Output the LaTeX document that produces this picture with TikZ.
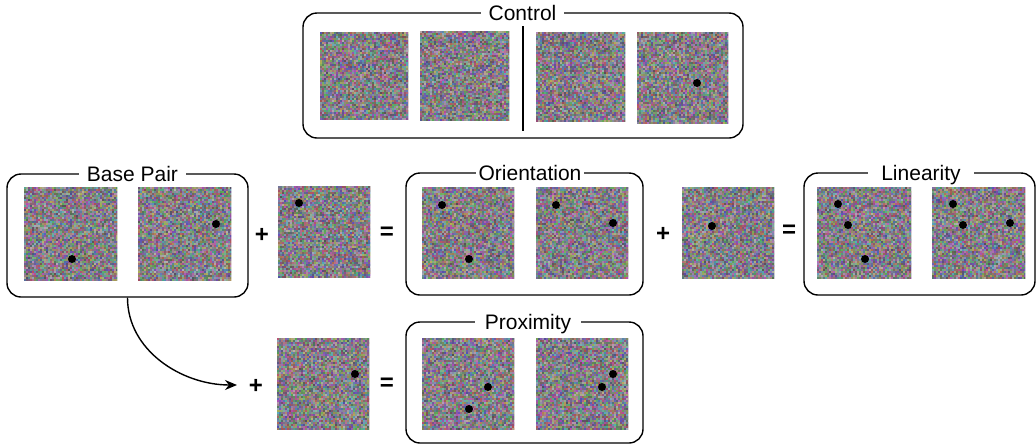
\documentclass[tikz,border=0pt]{standalone}
\usepackage{fontspec}
\setmainfont{Liberation Sans}
\usetikzlibrary{arrows.meta}
\makeatletter
\newcommand\noisecells[2]{%
  \pgfsys@invoke{0 -#2 #1 #2 re W n}%
  \pgfmathtruncatemacro\ymaxN{#2+1}%
  \foreach \xx in {0,2,...,#1}{\foreach \yy in {2,4,...,\ymaxN}{%
    \pgfmathrandominteger{\rC}{31}{72}%
    \pgfmathrandominteger{\gC}{30}{69}%
    \pgfmathrandominteger{\bC}{32}{73}%
    \pgfsys@invoke{0.\rC\space 0.\gC\space 0.\bC\space rg \xx\space -\yy\space 2.1 2.1 re f}%
  }}}
\makeatother
\tikzset{
  grp/.style={draw, line width=1.4pt, rounded corners=14pt, inner sep=0pt},
  img/.style={inner sep=0pt, outer sep=0pt, fill={rgb,255:red,132;green,124;blue,134}},
  lbl/.style={fill=white, inner ysep=1pt, inner xsep=8pt, anchor=base, font=\fontsize{21}{25}\selectfont},
  sign/.style={font=\fontsize{24}{28}\selectfont\bfseries, inner sep=0pt},
  dot/.style={fill=black},
}
\newcommand\noiseimg[5]{%
  \node[img, minimum width=#4pt, minimum height=#5pt] (#1) at (#2,#3) {};
  \begin{scope}
    \pgftransformshift{\pgfpointanchor{#1}{north west}}\pgflowlevelsynccm
    \noisecells{#4}{#5}
  \end{scope}}
\begin{document}
\begin{tikzpicture}[x=1pt,y=-1pt]
\pgfmathsetseed{11}
\useasboundingbox (0,0) rectangle (1036,445);
\fill[white] (0,0) rectangle (1036,445);

% group boxes
\node[grp, minimum width=440pt, minimum height=125pt] (ctrl) at (523,75.5) {};
\node[grp, minimum width=241pt, minimum height=123pt] (bp) at (127.5,235.5) {};
\node[grp, minimum width=237pt, minimum height=122pt] (ori) at (524.5,234) {};
\node[grp, minimum width=231pt, minimum height=122pt] (lin) at (919.5,234) {};
\node[grp, minimum width=237pt, minimum height=121pt] (prox) at (524.5,382.5) {};

% titles
\node[lbl] (ctrlT) at (522.5,20.7) {Control};
\node[lbl] (bpT) at (132.5,181.7) {Base Pair};
\node[lbl, inner xsep=3pt] (oriT) at (530,180.7) {Orientation};
\node[lbl, inner xsep=13pt] (linT) at (921,180.7) {Linearity};
\node[lbl, inner xsep=10pt] (proxT) at (528,329.7) {Proximity};

% control divider
\coordinate (divT) at (523,26);
\coordinate (divB) at (523,131);
\draw[line width=2pt] (divT) -- (divB);

% control images
\noiseimg{c1}{364}{75.5}{88}{87}
\noiseimg{c2}{464.5}{75.5}{89}{89}
\noiseimg{c3}{580.5}{76.5}{89}{89}
\noiseimg{c4}{682.5}{77.5}{91}{91}
\fill[dot] (697,83) circle (4);

% base pair row
\noiseimg{b1}{70.5}{233.5}{93}{93}
\noiseimg{b2}{184.5}{233.5}{93}{93}
\fill[dot] (72,259) circle (4);
\fill[dot] (216,224) circle (4);
\node[sign] (plus1) at (262,235) {+};
\noiseimg{s1}{324}{232}{92}{92}
\fill[dot] (299,203) circle (4);
\node[sign] (eq1) at (387,233) {=};

\noiseimg{o1}{468}{233}{92}{92}
\noiseimg{o2}{582}{233}{92}{92}
\fill[dot] (442,205) circle (4);
\fill[dot] (469,259) circle (4);
\fill[dot] (556,205) circle (4);
\fill[dot] (613,223) circle (4);
\node[sign] (plus2) at (663,234) {+};
\noiseimg{s2}{728}{233}{92}{92}
\fill[dot] (712,226) circle (4);
\node[sign] (eq2) at (789,231) {=};

\noiseimg{l1}{864}{233}{94}{92}
\noiseimg{l2}{978.5}{233}{93}{92}
\fill[dot] (838,204) circle (4);
\fill[dot] (848,225) circle (4);
\fill[dot] (865,259) circle (4);
\fill[dot] (953,204) circle (4);
\fill[dot] (963,225) circle (4);
\fill[dot] (1010,223) circle (4);

% bottom row
\coordinate (arrEnd) at (237,385);
\draw[line width=1.4pt, -{Stealth[length=12pt,width=10pt]}] (bp.south) .. controls +(0,53) and +(-55,0) .. (arrEnd);
\node[sign] (plus3) at (256,386) {+};
\noiseimg{s3}{323}{384}{92}{92}
\fill[dot] (355,374) circle (4);
\node[sign] (eq3) at (387,384) {=};
\noiseimg{p1}{468}{384}{92}{92}
\noiseimg{p2}{582}{384}{92}{92}
\fill[dot] (488,387) circle (4);
\fill[dot] (469,409) circle (4);
\fill[dot] (613,374) circle (4);
\fill[dot] (602,387) circle (4);
\end{tikzpicture}
\end{document}
